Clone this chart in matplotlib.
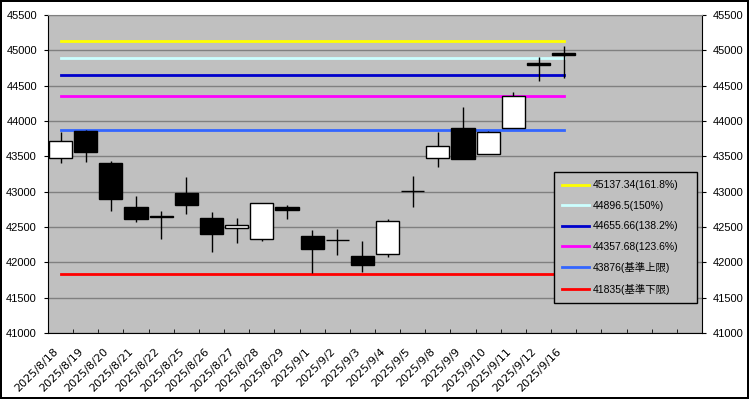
import matplotlib.pyplot as plt
import matplotlib.transforms as mtransforms
import numpy as np

plt.rcParams['font.family'] = ['Liberation Sans', 'Noto Sans CJK JP', 'DejaVu Sans']

# daily candles (open, high, low, close)
dates = ['2025/8/18', '2025/8/19', '2025/8/20', '2025/8/21', '2025/8/22', '2025/8/25',
         '2025/8/26', '2025/8/27', '2025/8/28', '2025/8/29', '2025/9/1', '2025/9/2',
         '2025/9/3', '2025/9/4', '2025/9/5', '2025/9/8', '2025/9/9', '2025/9/10',
         '2025/9/11', '2025/9/12', '2025/9/16']
opens = [43472, 43858, 43410, 42783, 42650, 42977, 42627, 42490, 42326, 42783, 42373, 42312,
         42090, 42114, 43014, 43472, 43905, 43529, 43905, 44816, 44958]
highs = [43848, 43872, 43434, 42939, 42726, 43207, 42712, 42627, 42840, 42811, 42457, 42476,
         42302, 42617, 43222, 43844, 44202, 43858, 44414, 44901, 45061]
lows = [43401, 43424, 42731, 42575, 42334, 42688, 42150, 42278, 42306, 42617, 41845, 42099,
        41867, 42080, 42787, 43353, 43466, 43529, 43905, 44570, 44604]
closes = [43713, 43565, 42900, 42617, 42640, 42816, 42405, 42528, 42835, 42736, 42193, 42312,
          41958, 42580, 43014, 43642, 43466, 43840, 44354, 44788, 44930]
n_slots = 26  # axis has empty categories after the last date

# reference levels
levels = [45137.34, 44896.5, 44655.66, 44357.68, 43876, 41835]
level_labels = ['45137.34(161.8%)', '44896.5(150%)', '44655.66(138.2%)',
                '44357.68(123.6%)', '43876(基準上限)', '41835(基準下限)']
level_colors = ['#FFFF00', '#CCFFFF', '#0000CC', '#FF00FF', '#3366FF', '#FF0000']

fig = plt.figure(figsize=(7.49, 3.99), dpi=100, edgecolor='black', linewidth=1.5)
ax = fig.add_axes([48 / 749, 66 / 399, 654 / 749, 318 / 399])
ax.set_facecolor('#C0C0C0')

x = np.arange(len(dates))
o = np.array(opens)
c = np.array(closes)
ax.vlines(x, lows, highs, color='black', lw=1, zorder=3)
body_bottom = np.minimum(o, c)
body_h = np.abs(c - o)
face = ['white' if cc > oo else 'black' for oo, cc in zip(o, c)]
ax.bar(x, body_h, bottom=body_bottom, width=0.92, color=face, edgecolor='black', lw=1, zorder=4)

for lv, lab, col in zip(levels, level_labels, level_colors):
    ax.plot([0, len(dates) - 1], [lv, lv], color=col, lw=2, label=lab, zorder=2)

ax.set_xlim(-0.5, n_slots - 0.5)
ax.set_ylim(41000, 45500)
yt = np.arange(41000, 45501, 500)
ax.set_yticks(yt)
ax.grid(axis='y', color='#808080', lw=1)
ax.set_axisbelow(True)

ax.set_xticks(np.arange(n_slots + 1) - 0.5, minor=True)
ax.set_xticks(x)
ax.set_xticklabels(dates, rotation=45, ha='right', va='center', rotation_mode='anchor',
                   fontsize=8, family='DejaVu Sans')
ax.tick_params(axis='x', which='major', length=0, pad=12)
ax.tick_params(axis='x', which='minor', direction='in', length=3)
ax.tick_params(axis='y', direction='out', length=3, labelsize=8, pad=5,
               right=True, labelright=True)
shift = mtransforms.ScaledTranslation(-4 / 100, 0, fig.dpi_scale_trans)
for lbl in ax.get_xticklabels():
    lbl.set_transform(lbl.get_transform() + shift)

for side in ['left', 'bottom', 'right']:
    ax.spines[side].set_color('black')
ax.spines['top'].set_color('#808080')

leg = ax.legend(loc='upper left', bbox_to_anchor=(0.7737, 0.094, 0.2187, 0.412), mode='expand',
                fontsize=7.5, fancybox=False, framealpha=1, facecolor='#C0C0C0',
                edgecolor='black', handlelength=2.6, labelspacing=1.0, borderpad=0.8,
                handletextpad=0.3, borderaxespad=0)
leg.set_zorder(10)

fig.savefig('out.png', dpi=100, edgecolor=fig.get_edgecolor())
